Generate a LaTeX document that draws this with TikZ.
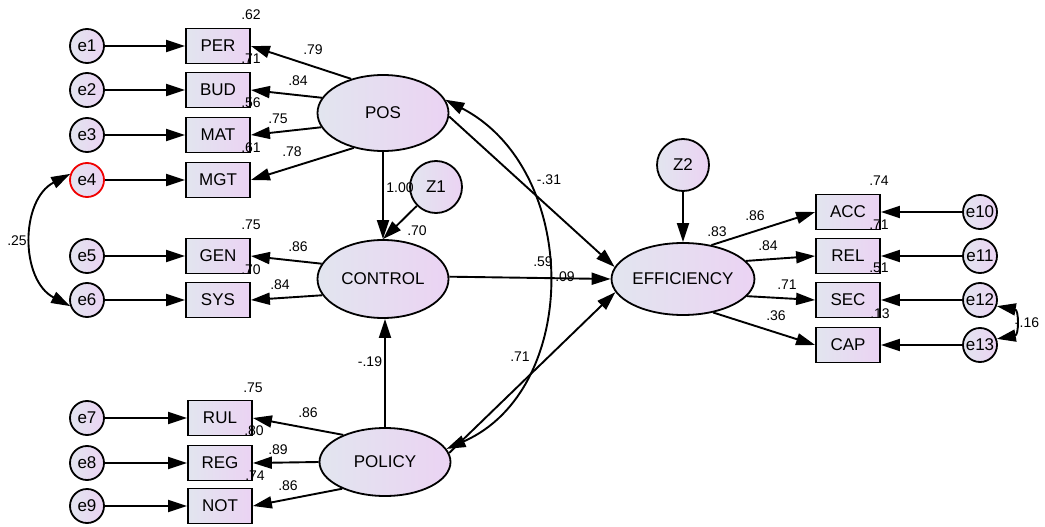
\documentclass[tikz,border=0pt]{standalone}
\usepackage{fontspec}
\setmainfont{Liberation Sans}
\usetikzlibrary{arrows.meta,shapes.geometric}
\definecolor{fillA}{HTML}{E2E5EF}
\definecolor{fillB}{HTML}{EBD3F3}
\definecolor{errred}{HTML}{F00000}
\begin{document}
\begin{tikzpicture}[x=1pt,y=-1pt,
  grad/.style={left color=fillA,right color=fillB},
  var/.style={grad,draw,line width=1.8pt,font=\fontsize{17}{17}\selectfont},
  err/.style={var,circle,minimum size=34pt,inner sep=0pt},
  obs/.style={var,rectangle,minimum width=64pt,minimum height=35pt,inner sep=0pt},
  lat/.style={var,ellipse,inner sep=0pt,minimum width=131pt},
  arr/.style={line width=1.9pt,-{Triangle[length=19pt,width=12pt]}},
  cov/.style={line width=1.9pt,{Triangle[length=19pt,width=12pt]}-{Triangle[length=19pt,width=12pt]}},
  lbl/.style={font=\fontsize{14}{14}\selectfont,inner sep=0pt}]
\useasboundingbox (0,0) rectangle (1045,527);

% latent variables
\node[lat,minimum height=76pt] (pos) at (383,113) {POS};
\node[lat,minimum height=78pt] (control) at (383,279) {CONTROL};
\node[lat,minimum height=68pt] (policy) at (385,462) {POLICY};
\node[lat,minimum height=72pt] (eff) at (683,279) {EFFICIENCY};
\node[err,minimum size=52pt] (z1) at (436,187) {Z1};
\node[err,minimum size=52pt] (z2) at (683,165) {Z2};

% observed indicators
\node[obs] (per) at (218,46) {PER};
\node[obs] (bud) at (218,90) {BUD};
\node[obs] (mat) at (218,135) {MAT};
\node[obs] (mgt) at (218,180) {MGT};
\node[obs] (gen) at (218,256) {GEN};
\node[obs] (sys) at (218,300) {SYS};
\node[obs] (rul) at (220,418) {RUL};
\node[obs] (reg) at (220,463) {REG};
\node[obs] (not) at (220,506) {NOT};
\node[obs] (acc) at (848,212) {ACC};
\node[obs] (rel) at (848,256) {REL};
\node[obs] (sec) at (848,300) {SEC};
\node[obs] (cap) at (848,345) {CAP};

% error terms
\node[err] (e1) at (87,46) {e1};
\node[err] (e2) at (87,90) {e2};
\node[err] (e3) at (87,135) {e3};
\node[err,draw=errred] (e4) at (87,180) {e4};
\node[err] (e5) at (87,256) {e5};
\node[err] (e6) at (87,300) {e6};
\node[err] (e7) at (87,418) {e7};
\node[err] (e8) at (87,463) {e8};
\node[err] (e9) at (87,506) {e9};
\node[err] (e10) at (980,212) {e10};
\node[err] (e11) at (980,256) {e11};
\node[err] (e12) at (980,300) {e12};
\node[err] (e13) at (980,345) {e13};

% error paths
\foreach \e/\o in {e1/per,e2/bud,e3/mat,e4/mgt,e5/gen,e6/sys,e7/rul,e8/reg,e9/not}
  \draw[arr] (\e) -- (\o.west);
\foreach \e/\o in {e10/acc,e11/rel,e12/sec,e13/cap}
  \draw[arr] (\e) -- (\o.east);

% loadings
\foreach \a/\o in {133/per,166/bud,193/mat,230/mgt} \draw[arr] (pos.\a) -- (\o.east);
\foreach \a/\o in {166/gen,195/sys} \draw[arr] (control.\a) -- (\o.east);
\foreach \a/\o in {147/rul,180/reg,212/not} \draw[arr] (policy.\a) -- (\o.east);
\foreach \a/\o in {50/acc,16/rel,-15/sec,-48/cap} \draw[arr] (eff.\a) -- (\o.west);

% structural paths
\draw[arr] (pos.south) -- (control.north);
\draw[arr] (z1) -- (control.north);
\draw[arr] (policy.north) -- (policy.north |- control.south);
\draw[arr] (control.2) -- (eff.180);
\draw[arr] (pos.-3) -- (eff.170);
\draw[arr] (policy.8) -- (eff.191);
\draw[arr] (z2) -- (eff);

% covariances
\draw[cov] (pos.12) .. controls (581,170) and (581,390) .. (policy.12);
\draw[cov] (e4.160) .. controls (20,200) and (20,280) .. (e6.200);
\draw[cov] (e12.-20) .. controls (1019,310) and (1019,335) .. (e13.20);

% estimates
\node[lbl] (l1) at (251,15) {.62};
\node[lbl] (l2) at (313,50) {.79};
\node[lbl] (l3) at (251,59) {.71};
\node[lbl] (l4) at (298,81) {.84};
\node[lbl] (l5) at (251,103) {.56};
\node[lbl] (l6) at (278,119) {.75};
\node[lbl] (l7) at (251,148) {.61};
\node[lbl] (l8) at (292,152) {.78};
\node[lbl] (l9) at (400,188) {1.00};
\node[lbl] (l10) at (417,231) {.70};
\node[lbl] (l11) at (251,225) {.75};
\node[lbl] (l12) at (298,247) {.86};
\node[lbl] (l13) at (251,270) {.70};
\node[lbl] (l14) at (280,285) {.84};
\node[lbl] (l15) at (17,241) {.25};
\node[lbl] (l16) at (370,362) {-.19};
\node[lbl] (l17) at (253,388) {.75};
\node[lbl] (l18) at (308,413) {.86};
\node[lbl] (l19) at (254,431) {.80};
\node[lbl] (l20) at (278,450) {.89};
\node[lbl] (l21) at (255,476) {.74};
\node[lbl] (l22) at (288,486) {.86};
\node[lbl] (l23) at (549,180) {-.31};
\node[lbl] (l24) at (543,262) {.59};
\node[lbl] (l25) at (565,277) {.09};
\node[lbl] (l26) at (520,357) {.71};
\node[lbl] (l27) at (717,232) {.83};
\node[lbl] (l28) at (755,216) {.86};
\node[lbl] (l29) at (768,246) {.84};
\node[lbl] (l30) at (787,285) {.71};
\node[lbl] (l31) at (776,316) {.36};
\node[lbl] (l32) at (879,181) {.74};
\node[lbl] (l33) at (879,225) {.71};
\node[lbl] (l34) at (879,268) {.51};
\node[lbl] (l35) at (880,314) {.13};
\node[lbl] (l36) at (1027,323) {-.16};
\end{tikzpicture}
\end{document}
